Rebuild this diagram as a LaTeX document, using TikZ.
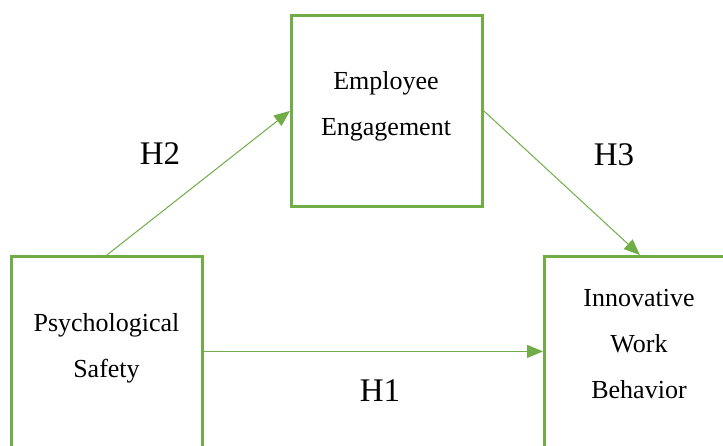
\documentclass[tikz,border=0pt]{standalone}
\usepackage{fontspec}
\setmainfont{Liberation Serif}
\usetikzlibrary{arrows.meta, positioning}
\definecolor{boxgreen}{HTML}{70AD47}

\begin{document}
\begin{tikzpicture}[x=1pt, y=-1pt,
    varbox/.style={draw=boxgreen, line width=2.8pt, minimum width=191pt, minimum height=200pt, inner sep=0pt, anchor=north west},
    vartext/.style={align=center, font=\fontsize{26}{46}\selectfont, inner sep=0pt},
    hyp/.style={font=\fontsize{33}{40}\selectfont, inner sep=0pt},
    link/.style={draw=boxgreen, line width=1pt, -{Triangle[length=16pt, width=13pt]}}]
    % Define frame
    \useasboundingbox (0,0) rectangle (723,445);
    \clip (0,0) rectangle (723,445);
    % Draw the three boxes
    \node[varbox] (psy) at (10,255) {};
    \node[varbox, minimum height=191pt] (eng) at (290,14) {};
    \node[varbox] (iwb) at (543,255) {};
    % Box texts
    \node[vartext] (psytext) at (106.5,348) {Psychological\\Safety};
    \node[vartext] (engtext) at (386,106) {Employee\\Engagement};
    \node[vartext] (iwbtext) at (639,344) {Innovative\\Work\\Behavior};
    % Draw the hypothesis paths
    \draw[link] (psy.north) -- (eng.west);
    \draw[link] (eng.east) -- (iwb.north);
    \draw[link] ([yshift=5pt]psy.east) -- ([yshift=5pt]iwb.west);
    % Hypothesis labels
    \node[hyp] (h2) at (160,154) {H2};
    \node[hyp] (h3) at (614,155) {H3};
    \node[hyp] (h1) at (380,391) {H1};
\end{tikzpicture}
\end{document}
